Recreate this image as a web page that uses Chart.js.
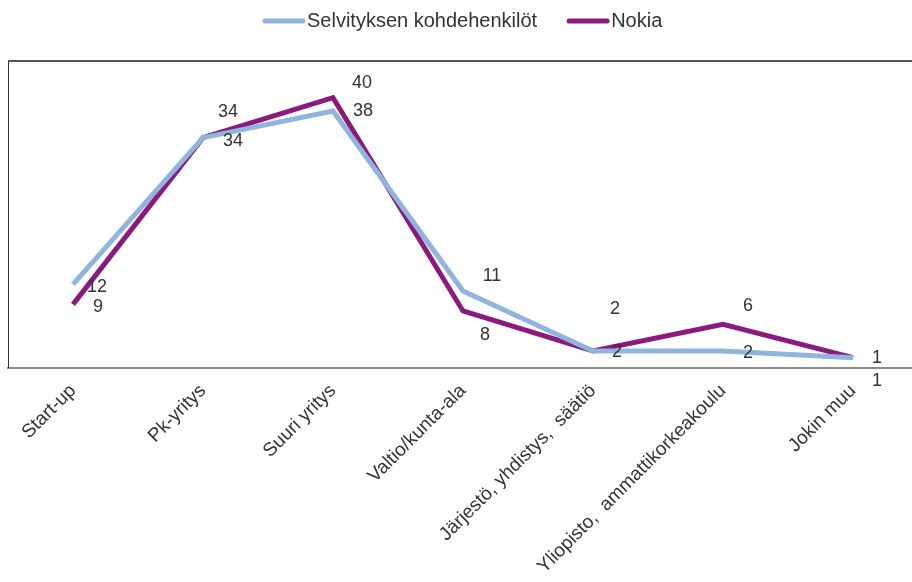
<!DOCTYPE html>
<html>
<head>
<meta charset="utf-8">
<script src="https://cdn.jsdelivr.net/npm/chart.js@4"></script>
<style>
  body { margin: 0; background: #fff; overflow: hidden; }
  #wrap { width: 918px; height: 582px; position: relative; }
</style>
</head>
<body>
<div id="wrap"><canvas id="chart"></canvas></div>
<script>
const categories = ['Start-up', 'Pk-yritys', 'Suuri yritys', 'Valtio/kunta-ala',
  'Järjestö, yhdistys,  säätiö', 'Yliopisto,  ammattikorkeakoulu', 'Jokin muu'];
const selvitys = [12, 34, 38, 11, 2, 2, 1];
const nokia = [9, 34, 40, 8, 2, 6, 1];

// where each value label sits relative to its point (dx, dy)
const labelOffsets = [
  [[24, 3], [30, 3], [30, 0], [29, -15], [22, -42], [25, 2], [24, 23]],
  [[25, 3], [25, -26], [29, -15], [22, 24], [24, 1], [25, -18], [24, 0]]
];

// value labels next to the points
const valueLabels = {
  id: 'valueLabels',
  afterDatasetsDraw(chart) {
    const ctx = chart.ctx;
    ctx.save();
    ctx.font = '18px "Liberation Sans", Arial, sans-serif';
    ctx.fillStyle = '#333';
    ctx.textAlign = 'center';
    ctx.textBaseline = 'middle';
    chart.data.datasets.forEach((ds, i) => {
      chart.getDatasetMeta(i).data.forEach((pt, j) => {
        const off = labelOffsets[i][j];
        ctx.fillText(ds.data[j], pt.x + off[0], pt.y + off[1]);
      });
    });
    ctx.restore();
  }
};

// top edge of the plot box + legend placed like the original
const frameAndLegend = {
  id: 'frameAndLegend',
  beforeDatasetsDraw(chart) {
    const a = chart.chartArea;
    const ctx = chart.ctx;
    ctx.save();
    ctx.strokeStyle = '#555';
    ctx.lineWidth = 2;
    ctx.beginPath();
    ctx.moveTo(a.left, a.top);
    ctx.lineTo(a.right, a.top);
    ctx.stroke();
    ctx.restore();
  },
  afterDraw(chart) {
    const ctx = chart.ctx;
    let x = 262;
    const y = 21;
    ctx.save();
    ctx.font = '20px "Liberation Sans", Arial, sans-serif';
    ctx.textBaseline = 'middle';
    chart.data.datasets.forEach(ds => {
      ctx.strokeStyle = ds.borderColor;
      ctx.lineWidth = 5;
      ctx.lineCap = 'round';
      ctx.beginPath();
      ctx.moveTo(x + 3, y);
      ctx.lineTo(x + 41, y);
      ctx.stroke();
      x += 45;
      ctx.fillStyle = '#333';
      ctx.fillText(ds.label, x, y);
      x += ctx.measureText(ds.label).width + 29;
    });
    ctx.restore();
  }
};

new Chart(document.getElementById('chart'), {
  type: 'line',
  data: {
    labels: categories,
    datasets: [{
      label: 'Selvityksen kohdehenkilöt',
      data: selvitys,
      borderColor: '#8FB4DE',
      backgroundColor: '#8FB4DE',
      borderWidth: 5,
      pointRadius: 0,
      tension: 0
    }, {
      label: 'Nokia',
      data: nokia,
      borderColor: '#8C1A7E',
      backgroundColor: '#8C1A7E',
      borderWidth: 5,
      pointRadius: 0,
      tension: 0
    }]
  },
  options: {
    responsive: true,
    maintainAspectRatio: false,
    animation: false,
    layout: { padding: { left: 0, right: 0, top: 61, bottom: 0 } },
    plugins: {
      legend: { display: false },
      tooltip: { enabled: false }
    },
    scales: {
      x: {
        offset: true,
        grid: { display: false },
        border: { display: true, color: '#8a8a8a', width: 2 },
        ticks: {
          minRotation: 45,
          maxRotation: 45,
          color: '#333',
          padding: 4,
          font: { size: 19, family: '"Liberation Sans", Arial, sans-serif' }
        }
      },
      y: {
        min: -0.5,
        max: 45.5,
        grid: { display: false },
        border: { display: true, color: '#333', width: 1 },
        ticks: { display: false }
      }
    }
  },
  plugins: [valueLabels, frameAndLegend]
});
</script>
</body>
</html>
